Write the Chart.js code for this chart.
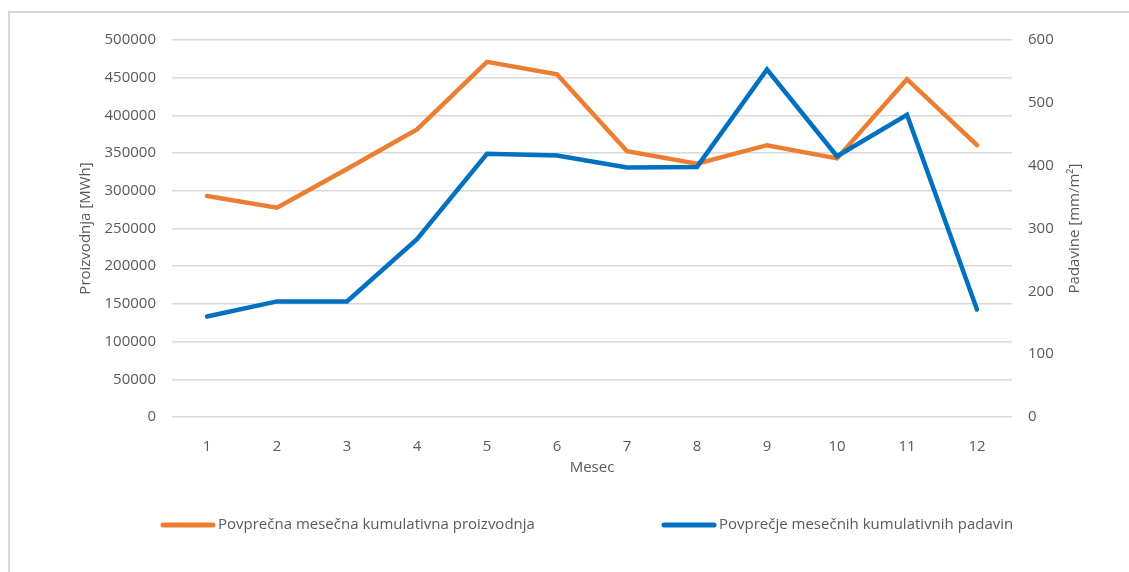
<!DOCTYPE html>
<html>
<head>
<meta charset="utf-8">
<script src="https://cdn.jsdelivr.net/npm/chart.js@4/dist/chart.umd.min.js"></script>
<style>
  html, body { margin: 0; padding: 0; background: #ffffff; }
  #wrap { position: relative; width: 1129px; height: 572px; }
</style>
</head>
<body>
<div id="wrap"><canvas id="chart" width="1129" height="572"></canvas></div>
<script>
// Months of the year
const months = ['1', '2', '3', '4', '5', '6', '7', '8', '9', '10', '11', '12'];

// Average monthly cumulative production [MWh]
const production = [293000, 277500, 329000, 381500, 471000, 454500, 352500, 336000, 360500, 343000, 448000, 360500];

// Average monthly cumulative precipitation [mm/m²]
const rainfall = [160, 184, 184, 283, 419, 416, 397, 398, 553, 415, 481, 171];

const productionLabel = 'Povprečna mesečna kumulativna proizvodnja';
const rainfallLabel = 'Povprečje mesečnih kumulativnih padavin';
const productionAxisTitle = 'Proizvodnja [MWh]';
const rainfallAxisTitle = 'Padavine [mm/m²]';

const FONT = '"Open Sans", "Noto Sans", sans-serif';
const TEXT = '#595959';
const GRID = '#d9d9d9';

const plainNumber = (v) => String(v);

// Frame around the whole chart
const framePlugin = {
  id: 'frame',
  beforeDraw(chart) {
    const ctx = chart.ctx;
    ctx.save();
    ctx.fillStyle = '#ffffff';
    ctx.fillRect(0, 0, chart.width, chart.height);
    ctx.strokeStyle = GRID;
    ctx.lineWidth = 2;
    ctx.strokeRect(9, 12, chart.width + 20, chart.height + 20);
    ctx.restore();
  }
};

// Right axis title, reading bottom-to-top like the left one
const rightTitle = {
  id: 'rightTitle',
  afterDraw(chart, args, opts) {
    const s = chart.scales.y1;
    const ctx = chart.ctx;
    ctx.save();
    ctx.font = '15px ' + FONT;
    ctx.fillStyle = TEXT;
    ctx.textAlign = 'center';
    ctx.textBaseline = 'middle';
    ctx.translate(s.right - opts.inset, (chart.chartArea.top + chart.chartArea.bottom) / 2);
    ctx.rotate(-Math.PI / 2);
    ctx.fillText(opts.text, 0, 0);
    ctx.restore();
  }
};

// Legend laid out with its two entries far apart
const spreadLegend = {
  id: 'spreadLegend',
  afterDraw(chart, args, opts) {
    const ctx = chart.ctx;
    ctx.save();
    ctx.font = '15px ' + FONT;
    ctx.textBaseline = 'middle';
    chart.data.datasets.forEach((ds, i) => {
      const x = opts.starts[i];
      const y = opts.y;
      ctx.strokeStyle = ds.borderColor;
      ctx.lineWidth = 5;
      ctx.lineCap = 'round';
      ctx.beginPath();
      ctx.moveTo(x + 2, y);
      ctx.lineTo(x + 52, y);
      ctx.stroke();
      ctx.fillStyle = TEXT;
      ctx.fillText(ds.label, x + 57, y);
    });
    ctx.restore();
  }
};

new Chart(document.getElementById('chart'), {
  type: 'line',
  data: {
    labels: months,
    datasets: [
      {
        label: productionLabel,
        data: production,
        yAxisID: 'y',
        borderColor: '#ED7D31',
        backgroundColor: '#ED7D31',
        borderWidth: 4.5,
        borderCapStyle: 'round',
        pointRadius: 0,
        tension: 0,
        order: 2
      },
      {
        label: rainfallLabel,
        data: rainfall,
        yAxisID: 'y1',
        borderColor: '#0070C0',
        backgroundColor: '#0070C0',
        borderWidth: 4.5,
        borderCapStyle: 'round',
        pointRadius: 0,
        tension: 0,
        order: 1
      }
    ]
  },
  options: {
    responsive: false,
    devicePixelRatio: 1,
    animation: false,
    layout: { padding: { left: 77, right: 45, top: 40, bottom: 95 } },
    plugins: {
      legend: { display: false },
      tooltip: { enabled: false },
      spreadLegend: { starts: [161, 662], y: 525 },
      rightTitle: { text: rainfallAxisTitle, inset: 9 }
    },
    scales: {
      x: {
        offset: true,
        grid: { display: false },
        border: { display: false },
        ticks: { color: TEXT, font: { family: FONT, size: 15 }, padding: 13, maxRotation: 0 },
        title: { display: true, text: 'Mesec', color: TEXT, font: { family: FONT, size: 15 }, padding: 0 },
        afterFit(scale) { scale.height = 60; }
      },
      y: {
        position: 'left',
        min: 0,
        max: 500000,
        ticks: { stepSize: 50000, color: TEXT, font: { family: FONT, size: 15 }, padding: 16, callback: plainNumber },
        grid: { color: GRID, lineWidth: 1.5, drawTicks: false },
        border: { display: false },
        title: { display: true, text: productionAxisTitle, color: TEXT, font: { family: FONT, size: 15 }, padding: 0 },
        afterFit(scale) { scale.width = 95; }
      },
      y1: {
        position: 'right',
        min: 0,
        max: 600,
        ticks: { stepSize: 100, color: TEXT, font: { family: FONT, size: 15 }, padding: 16, callback: plainNumber },
        grid: { display: false, drawTicks: false },
        border: { display: false },
        title: { display: false },
        afterFit(scale) { scale.width = 72; }
      }
    }
  },
  plugins: [framePlugin, rightTitle, spreadLegend]
});
</script>
</body>
</html>
